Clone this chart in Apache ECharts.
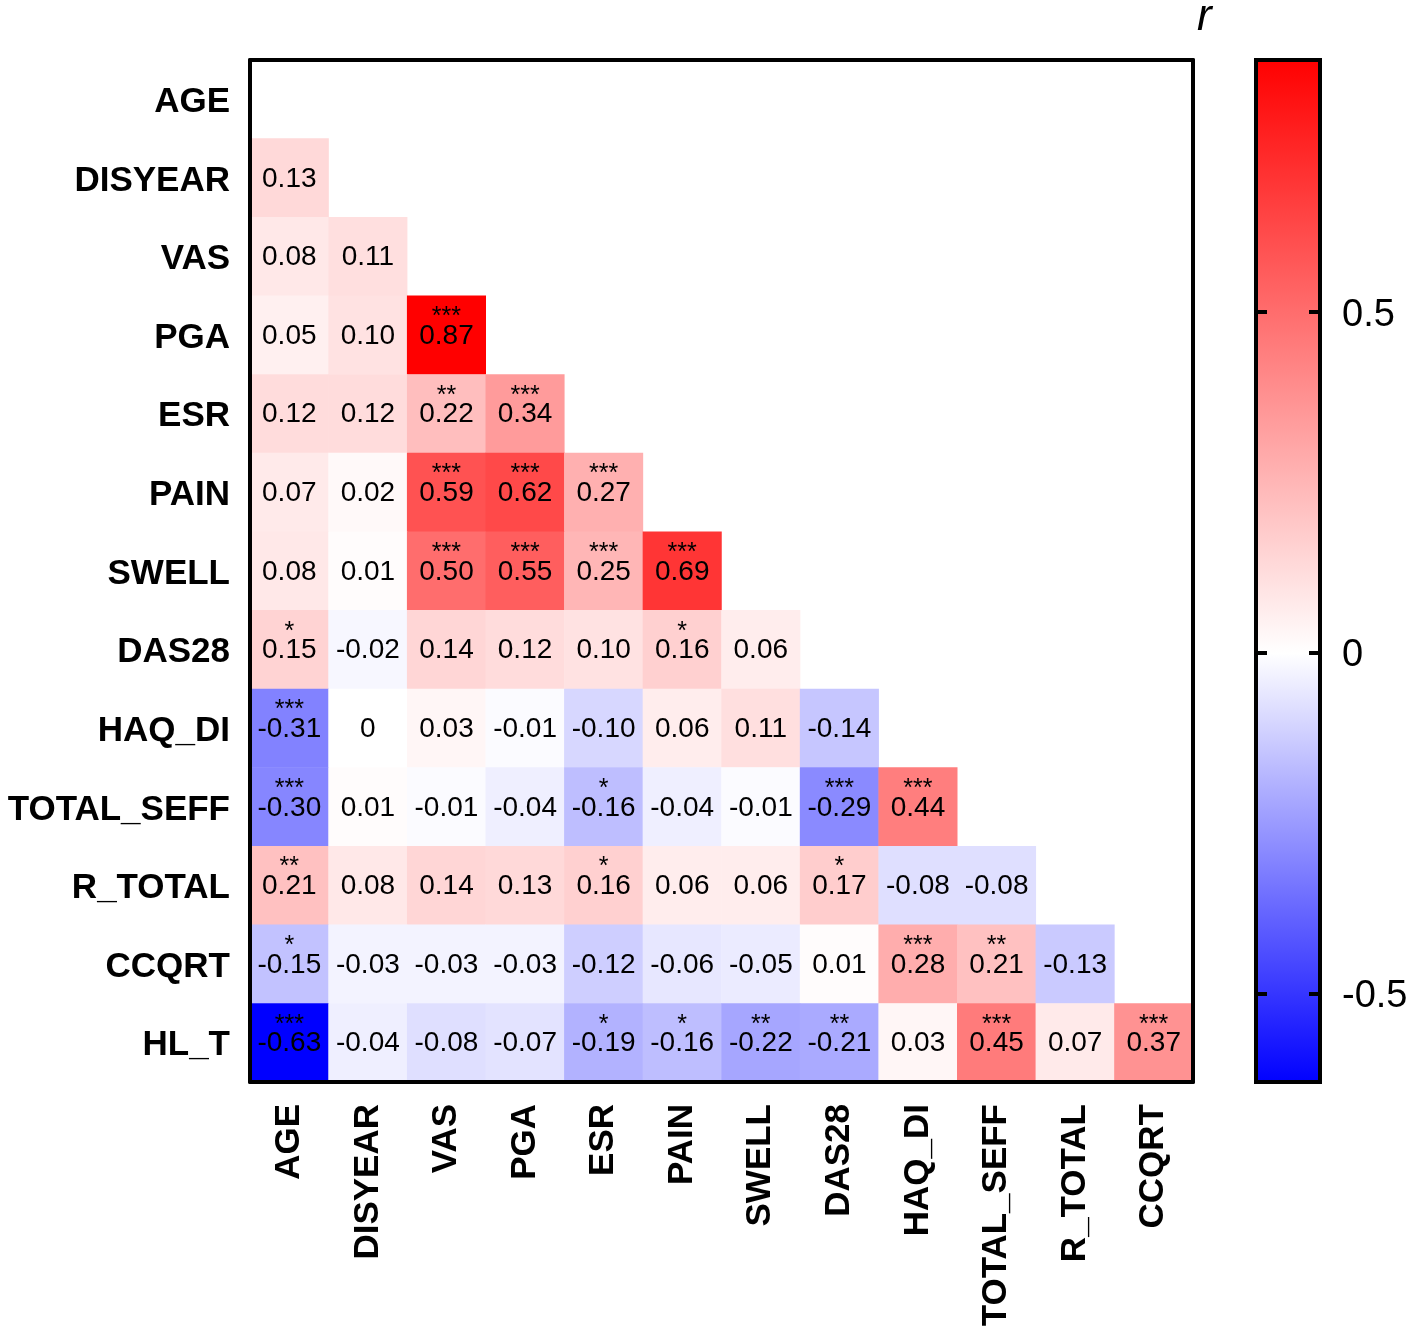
<!DOCTYPE html>
<html>
<head>
<meta charset="utf-8">
<script src="https://cdn.jsdelivr.net/npm/echarts@6.0.0/dist/echarts.min.js"></script>
<style>
html, body { margin: 0; padding: 0; background: #fff; }
#chart { width: 1418px; height: 1335px; }
</style>
</head>
<body>
<div id="chart"></div>
<script>
var rowNames = ['AGE', 'DISYEAR', 'VAS', 'PGA', 'ESR', 'PAIN', 'SWELL', 'DAS28', 'HAQ_DI', 'TOTAL_SEFF', 'R_TOTAL', 'CCQRT', 'HL_T'];
var colNames = ['AGE', 'DISYEAR', 'VAS', 'PGA', 'ESR', 'PAIN', 'SWELL', 'DAS28', 'HAQ_DI', 'TOTAL_SEFF', 'R_TOTAL', 'CCQRT'];

// Pearson r, lower triangle (one list per row)
var rValues = [
    [],
    [0.13],
    [0.08, 0.11],
    [0.05, 0.10, 0.87],
    [0.12, 0.12, 0.22, 0.34],
    [0.07, 0.02, 0.59, 0.62, 0.27],
    [0.08, 0.01, 0.50, 0.55, 0.25, 0.69],
    [0.15, -0.02, 0.14, 0.12, 0.10, 0.16, 0.06],
    [-0.31, 0, 0.03, -0.01, -0.10, 0.06, 0.11, -0.14],
    [-0.30, 0.01, -0.01, -0.04, -0.16, -0.04, -0.01, -0.29, 0.44],
    [0.21, 0.08, 0.14, 0.13, 0.16, 0.06, 0.06, 0.17, -0.08, -0.08],
    [-0.15, -0.03, -0.03, -0.03, -0.12, -0.06, -0.05, 0.01, 0.28, 0.21, -0.13],
    [-0.63, -0.04, -0.08, -0.07, -0.19, -0.16, -0.22, -0.21, 0.03, 0.45, 0.07, 0.37]
];

// significance marks, same layout
var sigStars = [
    [],
    [''],
    ['', ''],
    ['', '', '***'],
    ['', '', '**', '***'],
    ['', '', '***', '***', '***'],
    ['', '', '***', '***', '***', '***'],
    ['*', '', '', '', '', '*', ''],
    ['***', '', '', '', '', '', '', ''],
    ['***', '', '', '', '*', '', '', '***', '***'],
    ['**', '', '', '', '*', '', '', '*', '', ''],
    ['*', '', '', '', '', '', '', '', '***', '**', ''],
    ['***', '', '', '', '*', '*', '**', '**', '', '***', '', '***']
];

var rMin = -0.63;
var rMax = 0.87;
var barTicks = [-0.5, 0, 0.5];

var FONT = 'Arial, "Liberation Sans", sans-serif';

var chart = echarts.init(document.getElementById('chart'));

function mix(c1, c2, t) {
    var out = [];
    for (var k = 0; k < 3; k++) {
        out.push(Math.round(c1[k] + (c2[k] - c1[k]) * t));
    }
    return 'rgb(' + out.join(',') + ')';
}

// blue -> white at 0 -> red, stops spaced evenly over [rMin, rMax]
var colorStops = [];
var nSteps = 50;
for (var k = 0; k <= nSteps; k++) {
    var v = rMin + k * (rMax - rMin) / nSteps;
    if (v < 0) {
        colorStops.push(mix([255, 255, 255], [0, 0, 255], Math.min(1, v / rMin)));
    } else {
        colorStops.push(mix([255, 255, 255], [255, 0, 0], Math.min(1, v / rMax)));
    }
}

var cells = [];
rValues.forEach(function(row, i) {
    row.forEach(function(val, j) {
        cells.push({ value: [j, i, val], star: sigStars[i][j] });
    });
});

function fmt(v) {
    return v === 0 ? '0' : v.toFixed(2);
}

var lineStyle = { color: '#000', width: 4 };
var whiteOffset = rMax / (rMax - rMin);

var option = {
    animation: false,
    backgroundColor: '#fff',
    title: {
        text: 'r',
        left: 1197,
        top: -4,
        padding: 0,
        textStyle: { fontFamily: FONT, fontStyle: 'italic', fontWeight: 'normal', fontSize: 44, color: '#000' }
    },
    grid: [
        { left: 250, top: 60, width: 943, height: 1022 },
        { left: 1256, top: 60, width: 64, height: 1022 }
    ],
    visualMap: {
        show: false,
        seriesIndex: 0,
        dimension: 2,
        min: rMin,
        max: rMax,
        inRange: { color: colorStops }
    },
    xAxis: [
        {
            gridIndex: 0, type: 'category', data: colNames, position: 'bottom', z: 10,
            axisLine: { lineStyle: lineStyle },
            axisTick: { alignWithLabel: true, length: 15, lineStyle: lineStyle },
            axisLabel: { rotate: 90, margin: 22, fontFamily: FONT, fontWeight: 'bold', fontSize: 35, color: '#000' },
            splitLine: { show: false }
        },
        {
            gridIndex: 0, type: 'category', data: colNames, position: 'top', z: 10,
            axisLine: { lineStyle: lineStyle },
            axisTick: { show: false }, axisLabel: { show: false }
        },
        {
            gridIndex: 1, type: 'value', min: 0, max: 1, show: false
        }
    ],
    yAxis: [
        {
            gridIndex: 0, type: 'category', data: rowNames, inverse: true, position: 'left', z: 10,
            axisLine: { lineStyle: lineStyle },
            axisTick: { alignWithLabel: true, length: 15, lineStyle: lineStyle },
            axisLabel: {
                margin: 20,
                formatter: function(v) { return '{a|' + v + '}'; },
                rich: { a: { fontFamily: FONT, fontWeight: 'bold', fontSize: 35, color: '#000', padding: [6, 0, 0, 0] } }
            },
            splitLine: { show: false }
        },
        {
            gridIndex: 0, type: 'category', data: rowNames, inverse: true, position: 'right', z: 10,
            axisLine: { lineStyle: lineStyle },
            axisTick: { show: false }, axisLabel: { show: false }
        },
        {
            gridIndex: 1, type: 'value', min: rMin, max: rMax, position: 'left', z: 10,
            axisLine: { show: false },
            axisTick: { show: true, inside: true, length: 11, customValues: barTicks, lineStyle: lineStyle },
            axisLabel: { show: false },
            splitLine: { show: false }
        },
        {
            gridIndex: 1, type: 'value', min: rMin, max: rMax, position: 'right', z: 10,
            axisLine: { show: false },
            axisTick: { show: true, inside: true, length: 11, customValues: barTicks, lineStyle: lineStyle },
            axisLabel: {
                show: true, margin: 22, customValues: barTicks,
                formatter: function(v) { return '{a|' + v + '}'; },
                rich: { a: { fontFamily: FONT, fontSize: 38, color: '#000', padding: [6, 0, 0, 0] } }
            },
            splitLine: { show: false }
        }
    ],
    series: [
        {
            type: 'heatmap',
            xAxisIndex: 0,
            yAxisIndex: 0,
            data: cells,
            emphasis: { disabled: true },
            label: {
                show: true,
                offset: [0, 1],
                formatter: function(p) {
                    var t = fmt(p.value[2]);
                    if (p.data.star) {
                        return '{s|' + p.data.star + '}\n{v|' + t + '}\n{s| }';
                    }
                    return '{v|' + t + '}';
                },
                rich: {
                    s: { fontFamily: FONT, fontSize: 25, lineHeight: 8, color: '#000' },
                    v: { fontFamily: FONT, fontSize: 28, lineHeight: 30, color: '#000' }
                }
            }
        },
        {
            type: 'custom',
            xAxisIndex: 2,
            yAxisIndex: 3,
            data: [[0, rMin, rMax]],
            silent: true,
            renderItem: function(params, api) {
                var p1 = api.coord([0, api.value(2)]);
                var p2 = api.coord([1, api.value(1)]);
                return {
                    type: 'rect',
                    shape: { x: p1[0], y: p1[1], width: p2[0] - p1[0], height: p2[1] - p1[1] },
                    style: {
                        fill: new echarts.graphic.LinearGradient(0, 0, 0, 1, [
                            { offset: 0, color: '#ff0000' },
                            { offset: whiteOffset, color: '#ffffff' },
                            { offset: 1, color: '#0000ff' }
                        ]),
                        stroke: '#000',
                        lineWidth: 4
                    }
                };
            }
        }
    ]
};

chart.setOption(option);
</script>
</body>
</html>
